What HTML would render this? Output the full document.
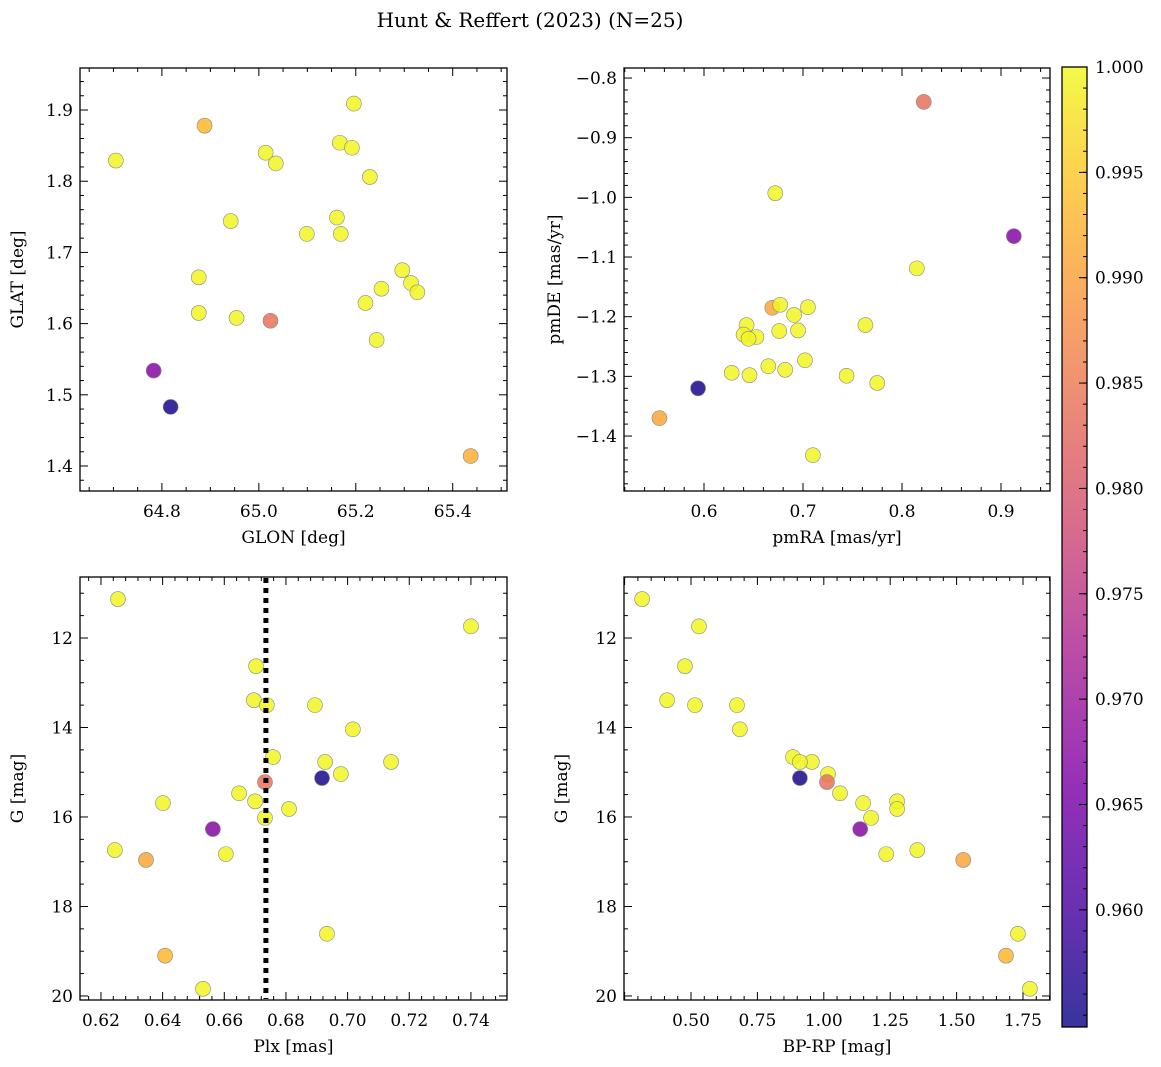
<!DOCTYPE html>
<html><head><meta charset="utf-8"><style>
body{margin:0;background:#fff}
svg{display:block;font-family:"DejaVu Serif","Liberation Serif",serif}
</style></head><body>
<svg id="fig" width="1161" height="1067" viewBox="0 0 1161 1067">
<text x="530" y="27" font-size="20" text-anchor="middle">Hunt &amp; Reffert (2023) (N=25)</text>
</svg>
<script>
// data per panel: x, y, membership probability
const glon=[64.705,64.888,65.014,65.035,65.196,65.167,65.192,65.229,64.942,65.099,65.161,65.169,64.876,65.296,65.314,65.327,65.253,65.220,64.876,64.954,65.024,65.243,64.783,64.818,65.437];
const glat=[1.829,1.878,1.840,1.825,1.909,1.854,1.847,1.806,1.744,1.726,1.749,1.726,1.665,1.675,1.657,1.644,1.649,1.629,1.615,1.608,1.604,1.577,1.534,1.483,1.414];
const pmra=[0.822,0.672,0.913,0.815,0.669,0.677,0.705,0.691,0.643,0.676,0.695,0.640,0.653,0.645,0.763,0.702,0.665,0.682,0.628,0.646,0.744,0.775,0.594,0.555,0.710];
const pmde=[-0.840,-0.993,-1.065,-1.119,-1.185,-1.180,-1.184,-1.197,-1.214,-1.224,-1.223,-1.230,-1.234,-1.237,-1.214,-1.273,-1.283,-1.289,-1.294,-1.298,-1.299,-1.311,-1.320,-1.370,-1.432];
const plx=[0.6255,0.7400,0.6703,0.6696,0.6738,0.6894,0.7017,0.6758,0.6927,0.7141,0.6978,0.6917,0.6732,0.6648,0.6401,0.6700,0.6810,0.6732,0.6563,0.6245,0.6605,0.6346,0.6933,0.6408,0.6531];
const gmag1=[11.13,11.74,12.63,13.39,13.50,13.50,14.04,14.66,14.77,14.77,15.04,15.13,15.22,15.47,15.69,15.65,15.82,16.02,16.27,16.74,16.83,16.96,18.61,19.10,19.84];
const bprp=[0.316,0.530,0.477,0.410,0.515,0.673,0.684,0.884,0.955,0.910,1.016,0.910,1.012,1.061,1.148,1.276,1.276,1.178,1.137,1.352,1.235,1.525,1.731,1.686,1.776];
const gmag2=[11.13,11.74,12.63,13.39,13.50,13.50,14.04,14.66,14.77,14.77,15.04,15.13,15.22,15.47,15.69,15.65,15.82,16.02,16.27,16.74,16.83,16.96,18.61,19.10,19.84];
const probTL=[0.9995,0.993,0.9995,0.9995,0.9995,0.9995,0.9995,0.9995,0.9995,0.9995,0.9995,0.9995,0.9995,0.9995,0.9995,0.9995,0.9995,0.9995,0.9995,0.9995,0.984,0.9995,0.967,0.9556,0.992];
const probTR=[0.984,0.9995,0.967,0.9995,0.991,0.9995,0.9995,0.9995,0.9995,0.9995,0.9995,0.9995,0.9995,0.9995,0.9995,0.9995,0.9995,0.9995,0.9995,0.9995,0.9995,0.9995,0.9556,0.991,0.9995];
const probBL=[0.9995,0.9995,0.9995,0.9995,0.9995,0.9995,0.9995,0.9995,0.9995,0.9995,0.9995,0.9556,0.984,0.9995,0.9995,0.9995,0.9995,0.9995,0.967,0.9995,0.9995,0.991,0.9995,0.993,0.9995];
const probBR=[0.9995,0.9995,0.9995,0.9995,0.9995,0.9995,0.9995,0.9995,0.9995,0.9995,0.9995,0.9556,0.984,0.9995,0.9995,0.9995,0.9995,0.9995,0.967,0.9995,0.9995,0.991,0.9995,0.993,0.9995];
const cbTicks=[0.960,0.965,0.970,0.975,0.980,0.985,0.990,0.995,1.000];
const plxLine=[0.6735];

const NS='http://www.w3.org/2000/svg';
const fig=document.getElementById('fig');
function el(tag,attrs,parent){const e=document.createElementNS(NS,tag);for(const k in attrs)e.setAttribute(k,attrs[k]);(parent||fig).appendChild(e);return e;}
const stops=[[0,13,8,135],[0.13,75,3,161],[0.25,125,3,168],[0.38,168,34,150],[0.5,203,70,121],[0.63,229,107,93],[0.75,248,148,65],[0.88,253,195,40],[1,240,249,33]];
function plasma(t){t=Math.max(0,Math.min(1,t));for(let i=1;i<stops.length;i++){if(t<=stops[i][0]){const a=stops[i-1],b=stops[i],f=(t-a[0])/(b[0]-a[0]);return `rgb(${[1,2,3].map(j=>Math.round(a[j]+f*(b[j]-a[j]))).join(',')})`;}}return 'rgb(240,249,33)';}
const VMIN=0.95444,VMAX=1.0;
function col(v){return plasma((v-VMIN)/(VMAX-VMIN));}
function fmt(v,d){let s=v.toFixed(d);return s.replace('-','\u2212');}

function panel(name,L,T,R,B,xmin,xmax,ymin,ymax,xmaj,xmin_,ymaj,ymin_,xd,yd,xlab,ylab,xs,ys,ps,invert,yoff){
  const g=el('g',{});
  
  
  const X=v=>L+(v-xmin)/(xmax-xmin)*(R-L);
  const Y=invert?(v=>T+(v-ymin)/(ymax-ymin)*(B-T)):(v=>B-(v-ymin)/(ymax-ymin)*(B-T));
  const lo=Math.min(ymin,ymax),hi=Math.max(ymin,ymax);
  for(let v=Math.ceil(xmin/xmin_-1e-6)*xmin_;v<=xmax+1e-9;v+=xmin_){const x=X(v);const maj=Math.abs(v/xmaj-Math.round(v/xmaj))<1e-4;const len=maj?8:4;
    el('line',{x1:x,x2:x,y1:B,y2:B-len,stroke:'#000','stroke-width':1},g);el('line',{x1:x,x2:x,y1:T,y2:T+len,stroke:'#000','stroke-width':1},g);
    if(maj&&x>L+2&&x<R-2){const t=el('text',{x:x,y:B+26,'font-size':17,'text-anchor':'middle'},g);t.textContent=fmt(v,xd);}}
  for(let v=Math.ceil(lo/ymin_-1e-6)*ymin_;v<=hi+1e-9;v+=ymin_){const y=Y(v);const maj=Math.abs(v/ymaj-Math.round(v/ymaj))<1e-4;const len=maj?8:4;
    el('line',{x1:L,x2:L+len,y1:y,y2:y,stroke:'#000','stroke-width':1},g);el('line',{x1:R,x2:R-len,y1:y,y2:y,stroke:'#000','stroke-width':1},g);
    if(maj){const t=el('text',{x:L-7,y:y+6,'font-size':17,'text-anchor':'end'},g);t.textContent=fmt(v,yd);}}
  for(let i=0;i<xs.length;i++){const c=el('circle',{cx:X(xs[i]),cy:Y(ys[i]),r:7.5,fill:col(ps[i]),'fill-opacity':0.85,stroke:'#888','stroke-width':0.6},g);
    
    }
  const f=el('rect',{x:L,y:T,width:R-L,height:B-T,fill:'none',stroke:'#000','stroke-width':1.3},g);
  
  const xl=el('text',{x:(L+R)/2,y:B+52,'font-size':17,'text-anchor':'middle'},g);xl.textContent=xlab;
  
  const yx=L-yoff;
  const yl=el('text',{x:yx,y:(T+B)/2,'font-size':17,'text-anchor':'middle',transform:`rotate(-90 ${yx} ${(T+B)/2})`},g);yl.textContent=ylab;
  
  return {X,Y,g};
}
panel('panel-top-left',80,68,507,491,64.631,65.512,1.3649,1.959,0.2,0.05,0.1,0.02,1,1,'GLON [deg]','GLAT [deg]',glon,glat,probTL,false,57);
panel('panel-top-right',624,68,1050,491,0.5192,0.9495,-1.4921,-0.7832,0.1,0.02,0.1,0.02,1,1,'pmRA [mas/yr]','pmDE [mas/yr]',pmra,pmde,probTR,false,64);
const bl=panel('panel-bottom-left',80,577,507,1000,0.6132,0.7517,10.637,20.09,0.02,0.004,2,0.5,2,0,'Plx [mas]','G [mag]',plx,gmag1,probBL,true,57);
panel('panel-bottom-right',624,577,1050,1000,0.2477,1.8517,10.637,20.09,0.25,0.05,2,0.5,2,0,'BP-RP [mag]','G [mag]',bprp,gmag2,probBR,true,57);
const ln=el('line',{x1:bl.X(plxLine[0]),x2:bl.X(plxLine[0]),y1:578,y2:999,stroke:'#000','stroke-width':5,'stroke-dasharray':'5,5'},bl.g);


// colorbar
const cb=el('g',{});


const defs=el('defs',{},cb);const lg=el('linearGradient',{id:'pl',x1:0,y1:1,x2:0,y2:0},defs);
for(let i=0;i<=20;i++)el('stop',{offset:i/20,'stop-color':plasma(i/20)},lg);
const CT=67,CB=1027,CL=1062,CR=1087;
el('rect',{x:CL,y:CT,width:CR-CL,height:CB-CT,fill:'url(#pl)','fill-opacity':0.82},cb);
el('rect',{x:CL,y:CT,width:CR-CL,height:CB-CT,fill:'none',stroke:'#000','stroke-width':1.3},cb);
const CY=v=>CB-(v-VMIN)/(VMAX-VMIN)*(CB-CT);
for(let v=0.955;v<=1.00001;v+=0.001){const y=CY(v);el('line',{x1:CR,x2:CR-4,y1:y,y2:y,stroke:'#000'},cb);}
cbTicks.forEach(v=>{const y=CY(v);el('line',{x1:CR,x2:CR-8,y1:y,y2:y,stroke:'#000'},cb);
  const t=el('text',{x:CR+8,y:y+6,'font-size':17},cb);t.textContent=v.toFixed(3);
  });
</script>
</body></html>
